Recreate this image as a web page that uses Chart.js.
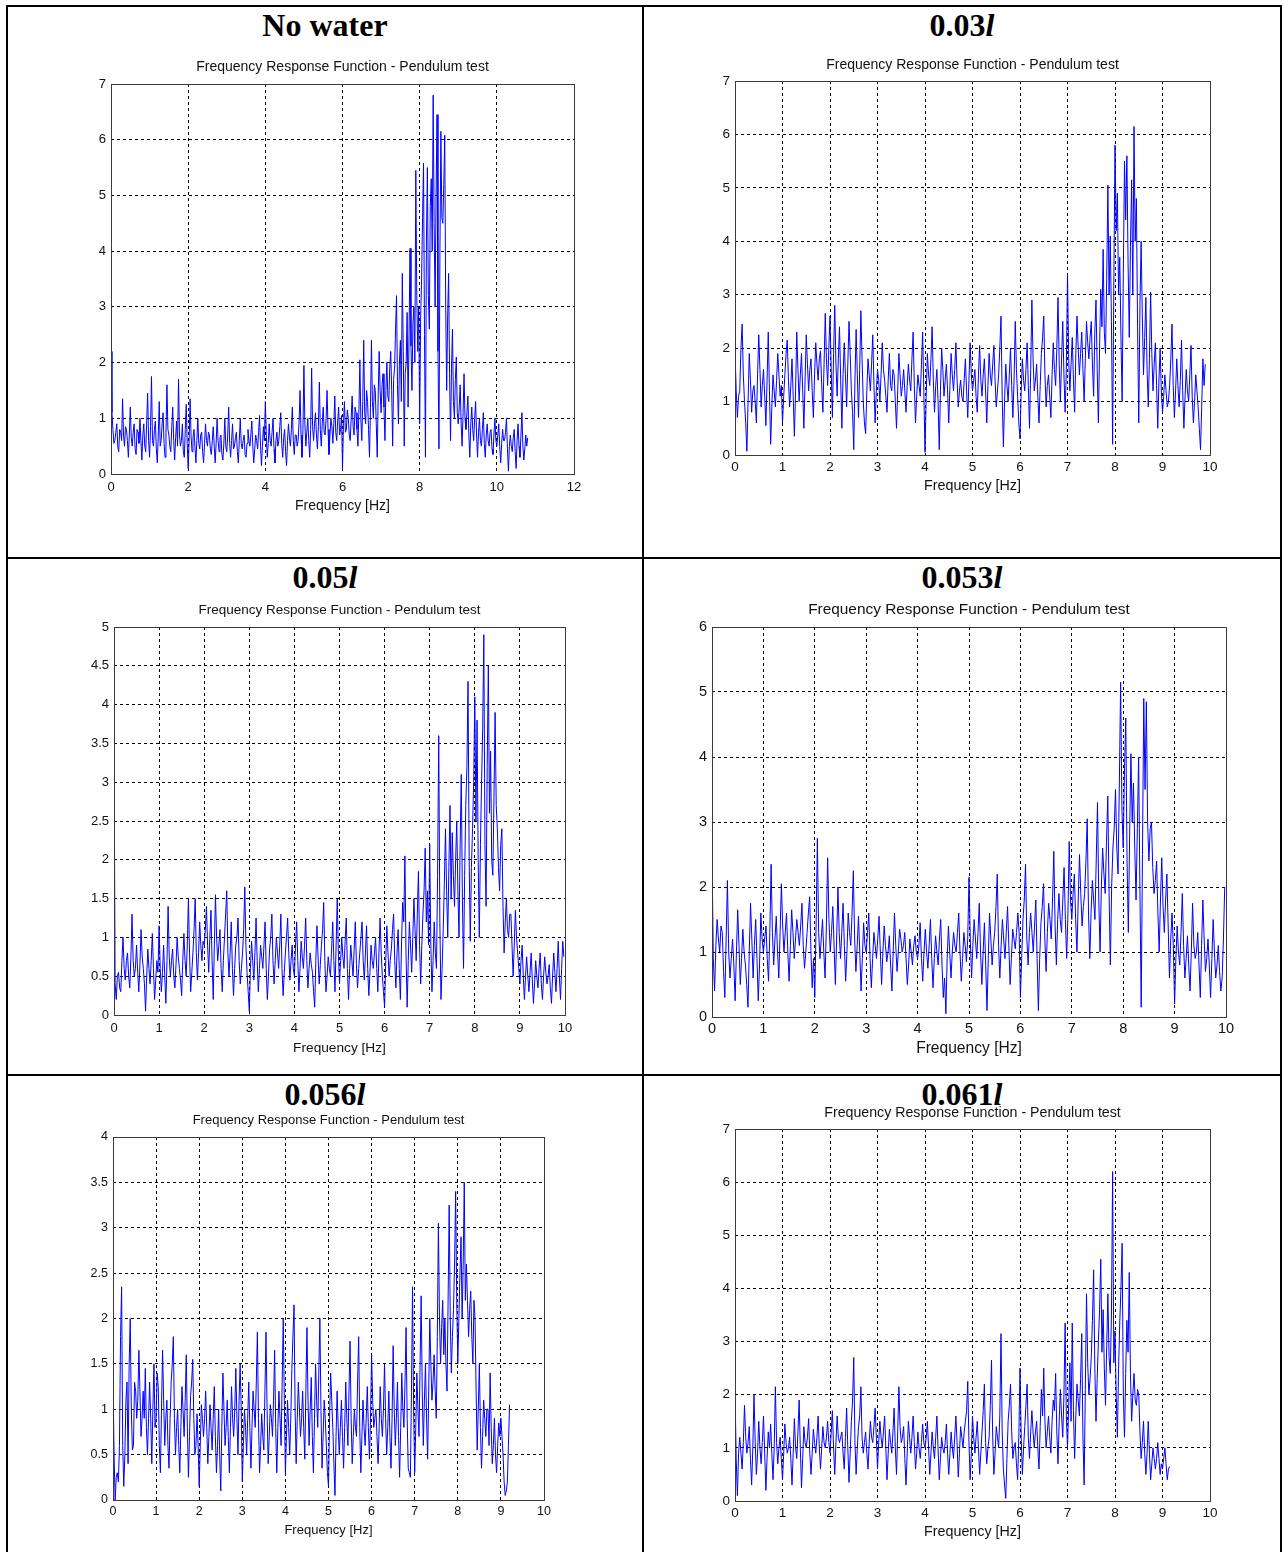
<!DOCTYPE html>
<html>
<head>
<meta charset="utf-8">
<title>Frequency Response Function - Pendulum test</title>
<script src="https://cdn.jsdelivr.net/npm/chart.js@4.4.1/dist/chart.umd.min.js"></script>
<style>
  body { margin: 0; background: #fff; width: 1283px; height: 1552px; position: relative; overflow: hidden; }
  .rule { position: absolute; background: #000; }
  .head { position: absolute; text-align: center; color: #000;
          font: bold 32px "Liberation Serif", "Times New Roman", serif; line-height: 32px; }
  .head i { font-style: italic; }
  canvas { position: absolute; }
</style>
</head>
<body>
<div class="rule" style="left:6px;top:5px;width:2px;height:1547px"></div>
<div class="rule" style="left:1280px;top:5px;width:2px;height:1547px"></div>
<div class="rule" style="left:642px;top:5px;width:2px;height:1547px"></div>
<div class="rule" style="left:6px;top:5px;width:1276px;height:2px"></div>
<div class="rule" style="left:6px;top:557px;width:1276px;height:2px"></div>
<div class="rule" style="left:6px;top:1074px;width:1276px;height:2px"></div>

<div class="head" style="left:8px;width:634px;top:9px">No water</div>
<div class="head" style="left:644px;width:636px;top:9px">0.03<i>l</i></div>
<div class="head" style="left:8px;width:634px;top:561px">0.05<i>l</i></div>
<div class="head" style="left:644px;width:636px;top:561px">0.053<i>l</i></div>
<div class="head" style="left:8px;width:634px;top:1078px">0.056<i>l</i></div>
<div class="head" style="left:644px;width:636px;top:1078px">0.061<i>l</i></div>

<script>
// frequency resolution of every FRF trace [Hz]
const df = 0.025;

// FRF magnitude, one value per 0.025 Hz starting at 0 Hz (one line = 1 Hz)
const noWater = [
  2.2, 1.1, 0.8, 0.55, 0.6, 0.75, 0.9, 0.5, 0.4, 0.8, 0.75, 0.6, 1.35, 0.7, 0.5, 0.85, 0.8, 0.6, 0.3, 0.7, 1.2, 0.65, 0.5, 0.75, 0.9, 0.45, 0.35, 0.8, 0.75, 0.55, 1.0, 0.6, 0.25, 0.7, 0.9, 0.5, 0.4, 0.95, 1.45, 0.6,
  0.3, 0.85, 1.75, 0.6, 0.5, 0.8, 0.95, 0.45, 0.2, 0.7, 1.3, 0.5, 0.6, 0.9, 1.1, 0.55, 0.3, 0.75, 1.6, 0.8, 0.7, 0.5, 0.4, 0.85, 1.2, 0.6, 0.25, 0.65, 0.95, 0.5, 1.7, 0.7, 0.5, 0.6, 0.9, 0.4, 0.3, 0.8, 1.25, 0.55,
  0.1, 0.6, 1.35, 0.7, 0.4, 0.65, 0.8, 0.5, 0.2, 0.6, 1.0, 0.55, 0.45, 0.7, 0.75, 0.4, 0.2, 0.55, 0.9, 0.6, 0.5, 0.75, 0.7, 0.45, 0.35, 0.6, 0.85, 0.5, 0.2, 0.55, 1.0, 0.6, 0.4, 0.65, 0.7, 0.35, 0.25, 0.55, 1.0, 0.5,
  0.4, 0.7, 1.2, 0.55, 0.3, 0.6, 0.9, 0.45, 0.5, 0.65, 0.75, 0.4, 0.2, 0.6, 1.0, 0.55, 0.45, 0.6, 0.7, 0.35, 0.3, 0.55, 0.8, 0.6, 0.5, 0.7, 0.95, 0.5, 0.2, 0.45, 0.7, 0.6, 0.45, 0.75, 1.05, 0.5, 0.15, 0.5, 0.85, 0.6,
  1.3, 0.7, 0.3, 0.55, 0.9, 0.6, 0.5, 0.75, 1.0, 0.45, 0.2, 0.6, 0.75, 0.5, 0.6, 0.85, 1.1, 0.55, 0.3, 0.65, 0.8, 0.4, 0.15, 0.6, 0.9, 0.65, 0.5, 0.8, 1.2, 0.6, 0.35, 0.7, 0.7, 0.5, 0.6, 0.95, 1.5, 0.7, 0.3, 0.8,
  1.95, 0.9, 0.5, 0.75, 1.0, 0.6, 0.3, 0.8, 1.9, 0.85, 0.6, 0.9, 1.1, 0.7, 0.45, 0.85, 1.65, 0.8, 0.5, 0.9, 1.2, 0.75, 0.7, 1.0, 1.5, 0.8, 0.35, 0.7, 1.0, 0.85, 0.55, 0.9, 1.4, 0.75, 0.6, 0.95, 1.2, 0.7, 0.8, 1.05,
  0.1, 0.9, 1.3, 0.75, 0.8, 1.15, 1.0, 0.7, 0.6, 1.0, 1.4, 0.85, 0.7, 1.2, 1.1, 0.8, 0.5, 1.1, 2.05, 1.0, 0.6, 1.3, 2.4, 1.1, 0.9, 1.5, 1.3, 0.8, 0.3, 1.2, 2.4, 1.3, 1.0, 1.6, 1.5, 0.9, 0.3, 1.4, 2.2, 1.5,
  1.1, 1.6, 1.8, 1.2, 0.6, 1.5, 2.0, 1.4, 1.3, 1.9, 2.2, 1.5, 0.5, 1.7, 1.9, 2.6, 3.2, 1.6, 0.9, 2.0, 2.4, 1.3, 3.6, 2.2, 0.5, 1.8, 2.0, 2.9, 1.2, 2.5, 4.05, 2.3, 1.5, 2.7, 3.0, 2.0, 5.45, 3.2, 2.2, 3.0,
  0.9, 2.8, 3.5, 4.6, 5.58, 2.5, 0.3, 4.2, 5.5, 3.2, 2.6, 4.8, 5.3, 4.0, 6.8, 4.5, 3.0, 5.0, 6.45, 2.2, 0.45, 4.0, 6.15, 4.6, 4.5, 5.2, 6.08, 3.0, 1.5, 2.8, 3.6, 1.8, 0.6, 1.9, 2.6, 1.3, 1.0, 1.7, 2.1, 1.1,
  0.9, 1.2, 1.6, 0.9, 0.5, 1.1, 1.8, 1.0, 0.8, 1.1, 1.4, 0.7, 0.3, 0.9, 1.2, 0.8, 0.6, 1.0, 1.3, 0.7, 0.3, 0.75, 1.0, 0.6, 0.5, 0.8, 1.1, 0.55, 0.3, 0.7, 0.9, 0.6, 0.5, 0.75, 0.8, 0.45, 0.35, 0.7, 1.0, 0.6,
  0.5, 0.7, 0.9, 0.5, 0.2, 0.55, 0.8, 0.6, 0.6, 0.75, 1.0, 0.45, 0.05, 0.5, 0.7, 0.5, 0.4, 0.65, 0.8, 0.4, 0.1, 0.6, 0.9, 0.5, 0.3, 0.7, 1.1, 0.5, 0.25, 0.45, 0.7, 0.5, 0.65
];
const water003 = [
  1.95, 1.2, 0.7, 1.1, 1.2, 2.0, 2.45, 1.5, 1.0, 0.6, 0.07, 1.0, 1.9, 1.4, 0.8, 1.2, 1.3, 1.0, 0.6, 1.5, 2.25, 1.6, 0.9, 1.3, 1.6, 1.1, 0.55, 1.4, 2.3, 1.2, 0.2, 0.9, 1.5, 1.2, 0.9, 1.4, 1.9, 1.5, 1.1, 1.3,
  0.6, 1.1, 1.5, 1.9, 2.15, 1.4, 0.9, 1.3, 1.8, 1.1, 0.35, 1.2, 2.3, 1.6, 1.0, 1.5, 1.9, 1.2, 0.5, 1.4, 2.25, 1.7, 1.2, 1.6, 1.8, 1.2, 0.7, 1.5, 2.1, 1.7, 1.4, 1.8, 1.95, 1.3, 0.8, 1.7, 2.65, 1.8, 1.3, 2.0,
  2.6, 1.6, 0.7, 1.9, 2.8, 1.7, 1.1, 1.8, 2.4, 1.4, 0.5, 1.5, 2.1, 1.5, 0.9, 1.7, 2.5, 1.9, 1.2, 0.8, 0.1, 1.4, 2.35, 1.5, 0.7, 1.6, 2.7, 1.8, 1.0, 0.6, 0.4, 1.2, 1.8, 1.5, 1.2, 1.7, 2.25, 1.3, 0.6, 1.2,
  1.6, 1.4, 1.0, 1.5, 2.1, 1.6, 1.4, 1.1, 0.8, 1.4, 1.9, 1.3, 1.2, 1.6, 1.5, 1.0, 0.5, 1.2, 1.9, 1.5, 1.1, 1.3, 1.6, 1.2, 0.8, 1.3, 1.7, 1.4, 1.2, 1.8, 2.3, 1.3, 0.6, 1.1, 1.5, 1.3, 1.1, 1.7, 2.3, 1.2,
  0.05, 1.1, 1.9, 1.5, 1.3, 1.8, 2.4, 1.4, 0.8, 1.3, 1.6, 1.0, 0.1, 1.2, 2.0, 1.6, 1.1, 1.4, 1.7, 1.2, 0.6, 1.3, 1.9, 1.5, 1.2, 1.6, 2.1, 1.4, 0.9, 1.2, 1.4, 1.1, 1.0, 1.4, 1.8, 1.2, 0.7, 1.4, 2.1, 1.5,
  1.2, 1.4, 1.6, 1.1, 0.8, 1.5, 2.05, 1.4, 1.1, 1.5, 1.8, 1.2, 0.6, 1.3, 1.9, 1.5, 1.3, 1.7, 2.05, 1.4, 0.9, 1.2, 1.5, 2.0, 2.6, 1.1, 0.15, 1.0, 1.7, 1.3, 1.0, 1.5, 2.0, 1.3, 0.7, 1.4, 2.5, 1.6, 1.1, 0.6,
  0.3, 1.2, 1.8, 1.4, 1.2, 1.6, 2.1, 1.3, 0.5, 1.6, 2.9, 1.8, 1.2, 1.4, 1.7, 1.1, 0.6, 1.3, 1.9, 2.2, 2.6, 1.5, 0.9, 1.3, 1.5, 1.1, 0.7, 1.5, 2.1, 1.6, 1.3, 2.0, 2.95, 1.7, 1.0, 1.8, 2.5, 1.5, 0.8, 1.6,
  3.4, 1.8, 1.2, 1.7, 2.2, 1.4, 0.8, 1.9, 2.6, 2.0, 1.5, 1.9, 2.3, 1.6, 1.0, 1.8, 2.5, 2.1, 1.8, 2.2, 2.5, 1.7, 1.1, 2.3, 2.9, 1.6, 0.6, 2.0, 3.1, 2.4, 3.85, 2.3, 1.9, 3.3, 5.05, 3.0, 4.1, 2.5, 0.2, 3.2,
  5.8, 4.2, 4.9, 3.0, 3.7, 2.2, 1.0, 3.4, 5.5, 4.4, 5.6, 3.6, 2.2, 3.9, 5.15, 3.0, 6.15, 4.0, 4.8, 2.4, 0.6, 2.8, 4.0, 2.6, 1.5, 2.2, 2.95, 1.6, 0.9, 1.8, 3.05, 1.9, 1.2, 1.7, 2.1, 1.3, 0.5, 1.4, 2.0, 1.2,
  0.8, 1.1, 1.5, 1.2, 0.9, 1.0, 1.3, 1.8, 2.45, 1.3, 0.7, 1.2, 1.8, 1.3, 0.9, 1.4, 2.15, 1.2, 0.5, 1.1, 1.6, 1.2, 1.0, 1.5, 2.05, 1.1, 0.6, 1.0, 1.5, 1.2, 0.9, 0.5, 0.1, 0.9, 1.8, 1.3, 1.7
];
const water005 = [
  3.6, 0.4, 0.2, 0.5, 0.55, 0.35, 0.3, 0.7, 1.0, 0.6, 0.45, 0.7, 0.8, 0.5, 0.35, 0.75, 1.3, 0.7, 0.5, 0.6, 0.9, 0.55, 0.3, 0.65, 1.1, 0.75, 0.6, 0.4, 0.05, 0.5, 0.85, 0.6, 0.4, 0.7, 1.05, 0.6, 0.2, 0.45, 0.7, 0.55,
  1.15, 0.6, 0.3, 0.55, 0.9, 0.5, 0.15, 0.7, 1.4, 0.75, 0.5, 0.7, 0.85, 0.5, 0.35, 0.65, 1.0, 0.75, 0.6, 0.45, 0.25, 0.7, 1.05, 0.7, 0.5, 0.9, 1.5, 0.8, 0.3, 0.55, 0.8, 1.1, 1.5, 0.8, 0.45, 0.8, 1.2, 0.9, 0.7, 0.95,
  0.9, 1.1, 1.4, 0.9, 0.55, 1.0, 1.35, 0.7, 0.2, 0.9, 1.55, 1.0, 0.7, 0.9, 1.1, 0.6, 0.3, 0.7, 1.0, 1.3, 1.6, 0.8, 0.5, 0.8, 1.2, 0.6, 0.25, 0.6, 0.9, 1.0, 1.25, 0.7, 0.4, 0.6, 0.8, 1.1, 1.65, 0.9, 0.55, 0.3,
  0.05, 0.6, 0.95, 0.7, 0.45, 0.8, 1.25, 0.7, 0.3, 0.6, 0.9, 0.75, 0.6, 0.9, 1.2, 0.6, 0.2, 0.5, 0.85, 1.0, 1.3, 0.7, 0.4, 0.7, 1.0, 0.8, 0.6, 0.9, 1.3, 0.6, 0.25, 0.55, 0.8, 1.0, 1.25, 0.8, 0.45, 0.7, 0.9, 0.6,
  0.5, 0.9, 1.2, 0.7, 0.3, 0.6, 0.95, 0.75, 0.6, 0.9, 1.25, 0.7, 0.35, 0.6, 0.8, 0.65, 0.55, 0.3, 0.1, 0.7, 1.15, 0.75, 0.4, 0.65, 0.9, 1.1, 1.45, 0.7, 0.3, 0.5, 0.75, 0.6, 0.5, 0.85, 1.2, 0.7, 0.3, 0.9, 1.5, 0.8,
  0.4, 0.7, 1.0, 0.75, 0.6, 0.95, 1.25, 0.6, 0.2, 0.6, 0.9, 0.7, 0.5, 0.85, 1.2, 0.65, 0.35, 0.6, 0.8, 1.0, 1.2, 0.7, 0.45, 0.8, 1.15, 0.6, 0.25, 0.55, 0.9, 0.7, 0.6, 0.8, 1.0, 0.6, 0.3, 0.8, 1.25, 0.8, 0.5, 0.3,
  0.1, 0.7, 1.15, 0.8, 0.5, 0.7, 0.85, 1.1, 1.3, 0.7, 0.35, 0.8, 1.1, 0.6, 0.2, 0.9, 1.45, 1.2, 2.05, 0.8, 0.1, 0.7, 1.2, 0.9, 0.55, 1.0, 1.5, 1.1, 0.7, 1.3, 1.85, 0.9, 0.4, 0.9, 1.3, 1.6, 2.15, 1.2, 1.6, 0.9,
  2.2, 0.9, 0.3, 0.7, 1.2, 0.8, 0.6, 1.8, 3.6, 1.2, 0.2, 0.6, 1.1, 1.7, 2.4, 1.6, 1.0, 1.9, 2.7, 1.5, 2.35, 1.8, 1.4, 2.0, 2.5, 1.6, 1.0, 2.2, 3.1, 1.5, 0.6, 1.8, 2.7, 3.2, 4.3, 2.0, 0.95, 1.9, 2.4, 3.0,
  4.1, 2.5, 3.8, 2.0, 1.0, 2.2, 3.0, 3.7, 4.9, 2.2, 1.4, 3.2, 4.5, 2.6, 3.4, 2.0, 1.8, 2.8, 3.9, 2.7, 2.4, 1.9, 1.6, 2.2, 2.4, 1.4, 0.8, 1.2, 1.5, 1.1, 1.0, 1.3, 1.3, 0.9, 0.5, 0.9, 1.35, 1.0, 0.8, 0.6,
  0.4, 0.7, 0.9, 0.5, 0.2, 0.5, 0.75, 0.5, 0.3, 0.55, 0.8, 0.45, 0.15, 0.4, 0.7, 0.5, 0.35, 0.6, 0.8, 0.4, 0.2, 0.5, 0.75, 0.55, 0.4, 0.5, 0.65, 0.35, 0.15, 0.5, 0.8, 0.55, 0.3, 0.6, 0.95, 0.5, 0.2, 0.6, 0.95, 0.75
];
const water0053 = [
  2.55, 0.9, 0.4, 1.1, 1.5, 1.2, 1.0, 1.4, 1.3, 0.7, 0.3, 1.2, 2.1, 1.0, 0.6, 0.9, 1.2, 0.8, 0.25, 1.0, 1.65, 1.1, 0.5, 0.9, 1.35, 1.0, 0.8, 0.5, 0.15, 1.0, 1.75, 1.2, 0.6, 1.1, 1.5, 0.9, 0.25, 0.8, 1.6, 1.2,
  1.0, 1.2, 1.4, 0.9, 0.55, 1.3, 2.35, 1.3, 0.8, 1.2, 1.55, 1.0, 0.6, 1.3, 2.05, 1.4, 1.0, 1.3, 1.6, 1.0, 0.55, 1.1, 1.65, 1.3, 0.9, 1.2, 1.5, 1.3, 1.1, 1.4, 1.75, 1.1, 0.75, 1.0, 1.3, 1.6, 1.85, 1.0, 0.45, 0.9,
  0.3, 1.4, 2.75, 1.3, 0.9, 1.2, 1.5, 1.0, 0.6, 1.4, 2.45, 1.5, 1.0, 1.3, 1.7, 1.1, 0.5, 1.2, 2.0, 1.3, 0.9, 1.3, 1.75, 1.1, 0.55, 1.0, 1.6, 1.3, 1.1, 1.6, 2.25, 1.2, 0.7, 1.1, 1.55, 1.0, 0.4, 0.9, 1.45, 1.1,
  1.0, 1.3, 1.6, 0.9, 0.45, 0.9, 1.3, 1.1, 0.9, 1.2, 1.55, 1.0, 0.5, 1.0, 1.4, 1.1, 0.85, 1.0, 1.25, 0.8, 0.4, 1.0, 1.6, 1.1, 0.7, 1.0, 1.35, 1.2, 1.0, 1.1, 1.3, 0.9, 0.5, 0.8, 1.2, 1.0, 0.8, 1.1, 1.25, 1.0,
  0.9, 1.1, 1.45, 0.9, 0.55, 1.0, 1.35, 1.0, 0.75, 1.1, 1.5, 0.9, 0.45, 0.9, 1.25, 1.0, 0.8, 1.2, 1.5, 0.8, 0.3, 0.6, 0.05, 0.9, 1.4, 1.0, 0.6, 1.0, 1.3, 1.1, 1.0, 1.3, 1.6, 1.0, 0.55, 0.9, 1.3, 1.1, 0.85, 1.2,
  2.15, 1.2, 0.6, 1.1, 1.5, 1.2, 0.9, 1.3, 1.75, 1.0, 0.5, 1.0, 1.45, 0.8, 0.1, 0.9, 1.6, 1.2, 0.8, 1.1, 1.3, 1.7, 2.2, 1.1, 0.6, 1.1, 1.5, 1.2, 0.9, 1.3, 1.7, 1.1, 0.5, 0.9, 1.35, 1.2, 1.05, 1.3, 1.6, 1.3,
  0.3, 0.9, 1.5, 1.8, 2.35, 1.2, 0.8, 1.3, 1.6, 1.3, 1.0, 1.4, 1.8, 0.9, 0.1, 0.9, 1.45, 1.7, 2.05, 1.2, 0.7, 1.3, 1.75, 1.5, 1.2, 1.8, 2.55, 1.4, 0.8, 1.5, 1.9, 1.5, 1.3, 1.8, 2.3, 1.5, 0.9, 1.6, 2.7, 1.8,
  1.5, 1.9, 2.2, 1.5, 1.0, 1.8, 2.5, 1.9, 1.4, 1.7, 1.9, 2.4, 3.05, 1.6, 0.9, 1.6, 2.1, 1.8, 1.5, 2.4, 3.3, 1.8, 1.0, 2.0, 2.6, 2.2, 1.9, 2.7, 3.4, 1.9, 0.8, 2.0, 2.6, 2.9, 3.5, 2.6, 2.2, 3.6, 5.15, 3.2,
  2.6, 3.8, 4.6, 2.4, 1.3, 2.8, 4.05, 3.0, 3.6, 2.6, 1.8, 2.9, 4.0, 2.0, 0.15, 2.5, 4.9, 3.5, 4.85, 3.0, 2.4, 2.9, 3.0, 2.3, 1.9, 2.1, 2.4, 1.6, 1.0, 1.8, 2.45, 1.7, 1.3, 1.8, 2.2, 1.4, 0.6, 1.2, 1.6, 1.1,
  0.2, 0.9, 1.4, 1.0, 0.8, 1.3, 1.9, 1.1, 0.6, 0.9, 1.25, 0.8, 0.4, 1.0, 1.75, 1.1, 0.9, 1.0, 1.3, 0.8, 0.3, 1.1, 1.8, 1.2, 0.7, 0.9, 1.2, 0.8, 0.3, 0.9, 1.5, 1.0, 0.6, 0.8, 1.1, 0.7, 0.4, 0.6, 1.2, 2.0
];
const water0056 = [
  1.35, 0.5, 0.0, 0.25, 0.3, 0.2, 0.6, 1.8, 2.35, 0.6, 0.15, 0.5, 1.1, 1.3, 0.4, 1.5, 2.0, 1.0, 0.55, 0.6, 1.3, 1.2, 0.9, 1.1, 1.65, 1.2, 0.7, 0.9, 1.2, 0.9, 1.45, 0.8, 0.5, 0.9, 1.3, 0.9, 0.4, 1.0, 1.5, 0.8,
  0.9, 1.4, 1.25, 0.6, 0.3, 1.0, 1.65, 1.1, 0.6, 0.9, 1.1, 0.6, 0.35, 0.9, 1.3, 1.5, 1.8, 0.9, 0.5, 0.8, 1.0, 0.6, 0.3, 0.8, 1.25, 1.0, 0.7, 1.1, 1.6, 0.8, 0.25, 0.7, 1.15, 1.3, 1.55, 0.9, 0.5, 0.6, 0.95, 0.6,
  0.15, 0.6, 1.05, 0.9, 0.7, 0.9, 1.2, 0.8, 0.4, 0.7, 1.05, 0.8, 0.55, 0.9, 1.25, 0.7, 0.3, 0.6, 1.0, 0.5, 0.1, 0.8, 1.4, 1.0, 0.6, 0.8, 1.1, 0.7, 0.3, 0.8, 1.25, 0.9, 0.7, 1.0, 1.45, 0.9, 0.5, 1.1, 1.5, 1.0,
  0.2, 0.6, 1.0, 0.8, 0.5, 0.9, 1.3, 0.8, 0.35, 0.8, 1.2, 1.0, 0.8, 1.3, 1.85, 0.9, 0.3, 0.6, 0.95, 0.7, 0.55, 1.2, 1.85, 1.0, 0.4, 0.7, 1.05, 0.9, 0.7, 1.1, 1.65, 0.8, 0.3, 0.8, 1.2, 0.9, 0.6, 1.3, 2.0, 1.1,
  0.3, 0.7, 1.1, 0.8, 0.5, 0.9, 1.45, 1.8, 2.15, 1.0, 0.4, 0.9, 1.3, 1.0, 0.7, 0.9, 1.2, 0.8, 0.45, 1.2, 1.9, 1.1, 0.6, 1.0, 1.35, 0.7, 0.3, 0.9, 1.5, 1.1, 0.8, 1.4, 2.0, 1.0, 0.35, 0.7, 1.1, 0.9, 0.6, 0.3,
  0.15, 0.9, 1.4, 1.1, 0.8, 0.4, 0.05, 0.7, 1.2, 0.8, 0.5, 0.8, 1.1, 0.7, 0.35, 0.8, 1.3, 0.9, 0.6, 1.2, 1.75, 0.9, 0.4, 0.7, 1.0, 0.8, 0.7, 1.3, 1.8, 0.8, 0.3, 0.7, 1.1, 0.8, 0.6, 0.9, 1.25, 0.8, 0.45, 0.9,
  1.6, 1.1, 0.8, 0.9, 1.0, 0.7, 0.4, 0.8, 1.25, 0.9, 0.7, 1.0, 1.5, 0.9, 0.5, 0.8, 1.2, 0.7, 0.35, 0.9, 1.7, 1.0, 0.6, 0.9, 1.3, 0.7, 0.25, 0.8, 1.4, 1.0, 0.8, 1.3, 1.9, 0.9, 0.35, 0.3, 0.25, 1.2, 2.35, 1.0,
  0.3, 0.8, 1.4, 1.0, 0.7, 1.5, 2.25, 1.2, 0.6, 1.1, 1.5, 0.9, 0.45, 1.2, 2.0, 1.5, 1.1, 1.3, 1.6, 1.2, 0.9, 1.8, 3.05, 2.0, 1.5, 1.9, 2.2, 1.6, 2.0, 1.5, 1.2, 2.2, 3.25, 2.0, 1.4, 1.8, 2.1, 2.6, 3.4, 2.2,
  1.5, 2.0, 2.5, 2.9, 2.0, 2.6, 3.5, 2.2, 2.6, 2.2, 1.8, 2.1, 2.3, 1.8, 1.5, 2.2, 2.0, 1.2, 0.55, 1.0, 1.5, 0.8, 0.35, 0.7, 1.1, 0.9, 0.7, 1.0, 1.0, 0.6, 1.4, 0.8, 0.4, 0.6, 0.9, 0.5, 0.3, 0.6, 0.85, 0.7,
  0.9, 0.7, 0.5, 0.2, 0.05, 0.1, 0.2, 0.6, 1.05
];
const water0061 = [
  2.1, 0.8, 0.1, 0.9, 1.2, 0.9, 0.6, 1.1, 1.8, 1.2, 0.9, 1.1, 1.4, 0.8, 0.3, 1.0, 2.0, 1.1, 0.5, 0.9, 1.5, 1.0, 0.7, 1.1, 1.6, 0.9, 0.2, 0.8, 1.3, 1.0, 1.45, 0.9, 0.4, 1.0, 2.15, 1.1, 0.7, 1.0, 1.2, 0.8,
  0.4, 0.9, 1.45, 1.1, 0.9, 1.0, 1.2, 0.8, 0.3, 0.9, 1.55, 1.0, 0.8, 1.3, 1.9, 1.0, 0.25, 0.8, 1.4, 1.1, 1.0, 1.2, 1.55, 0.9, 0.5, 0.9, 1.35, 1.1, 0.9, 1.2, 1.6, 1.0, 0.6, 1.0, 1.4, 1.1, 1.0, 1.2, 1.5, 1.1,
  0.9, 1.3, 1.7, 1.0, 0.5, 1.1, 1.6, 1.2, 1.1, 1.2, 1.3, 0.9, 0.6, 1.2, 1.75, 1.0, 0.35, 0.9, 1.5, 1.9, 2.7, 1.1, 0.5, 1.0, 1.4, 1.6, 2.15, 1.2, 0.9, 1.1, 1.3, 0.9, 0.6, 1.1, 1.5, 1.2, 1.1, 1.4, 1.75, 1.2,
  0.6, 1.1, 1.5, 1.2, 1.0, 1.3, 1.6, 1.0, 0.4, 0.9, 1.35, 1.1, 0.9, 1.3, 1.75, 1.0, 0.5, 1.3, 2.15, 1.4, 1.1, 1.2, 1.4, 0.8, 0.3, 0.9, 1.5, 1.2, 0.9, 1.2, 1.6, 1.1, 0.6, 0.9, 1.3, 1.0, 0.8, 1.1, 1.45, 1.1,
  1.0, 1.2, 1.5, 1.0, 0.5, 0.9, 1.3, 1.0, 0.8, 1.2, 1.6, 1.0, 0.4, 0.8, 1.2, 1.0, 0.9, 1.1, 1.45, 0.9, 0.5, 0.9, 1.3, 1.0, 0.8, 1.2, 1.6, 1.1, 0.45, 0.9, 1.4, 1.2, 1.0, 1.3, 1.5, 1.7, 2.25, 1.1, 0.4, 0.9,
  1.6, 1.2, 0.9, 1.2, 1.5, 1.0, 0.5, 0.9, 1.3, 1.7, 2.2, 1.1, 0.7, 1.0, 1.2, 1.8, 2.65, 1.2, 0.5, 0.9, 1.4, 1.2, 1.0, 1.6, 3.15, 1.3, 0.6, 0.3, 0.05, 0.8, 1.5, 1.8, 2.2, 1.3, 0.8, 1.0, 1.1, 0.7, 0.4, 1.2,
  2.5, 1.2, 0.5, 1.0, 1.4, 1.8, 2.2, 1.2, 0.8, 1.3, 1.7, 1.3, 1.0, 1.3, 1.5, 1.0, 0.6, 1.4, 2.1, 1.6, 2.5, 1.5, 1.0, 1.3, 1.6, 1.2, 0.9, 1.5, 1.9, 1.7, 2.4, 1.3, 0.7, 1.5, 2.1, 1.6, 1.2, 2.0, 3.35, 1.6,
  1.0, 1.8, 2.6, 1.5, 3.35, 1.7, 0.8, 1.6, 2.2, 1.9, 1.6, 2.3, 3.15, 1.2, 0.3, 2.1, 3.9, 2.6, 2.0, 2.3, 2.7, 3.4, 4.35, 2.5, 1.5, 2.3, 3.0, 3.6, 4.55, 2.8, 3.6, 2.5, 1.8, 2.9, 3.9, 2.7, 2.4, 3.5, 6.2, 2.6,
  3.2, 2.0, 1.2, 2.5, 3.35, 4.0, 4.85, 2.0, 1.2, 2.4, 3.4, 2.8, 4.3, 2.4, 1.5, 2.0, 2.4, 1.9, 1.8, 2.1, 2.0, 1.3, 0.8, 1.1, 1.5, 0.9, 0.5, 0.9, 1.5, 0.9, 0.4, 0.7, 1.0, 0.8, 0.6, 0.8, 1.1, 0.8, 0.5, 0.7,
  0.6, 0.8, 1.0, 0.7, 0.4, 0.6, 0.65
];

// axis ticks
const xTicks12 = [0, 2, 4, 6, 8, 10, 12];
const xTicks10 = [0, 1, 2, 3, 4, 5, 6, 7, 8, 9, 10];
const yTicks7 = [0, 1, 2, 3, 4, 5, 6, 7];
const yTicks6 = [0, 1, 2, 3, 4, 5, 6];
const yTicks5 = [0, 0.5, 1, 1.5, 2, 2.5, 3, 3.5, 4, 4.5, 5];
const yTicks4 = [0, 0.5, 1, 1.5, 2, 2.5, 3, 3.5, 4];

const subtitle = 'Frequency Response Function - Pendulum test';
const xLabel = 'Frequency [Hz]';
const FONT = '"Liberation Sans", Arial, Helvetica, sans-serif';

// plot box = [left, top, right, bottom] in page pixels
const panels = [
  { values: noWater,   xTicks: xTicks12, yTicks: yTicks7, box: [111, 84, 574, 474],
    subY: 67,   subSize: 14,   tickSize: 13,   tickGap: 13, axisSize: 14,   axisGap: 32 },
  { values: water003,  xTicks: xTicks10, yTicks: yTicks7, box: [735, 81, 1210, 455],
    subY: 65,   subSize: 14,   tickSize: 13.5, tickGap: 12, axisSize: 14.3, axisGap: 31 },
  { values: water005,  xTicks: xTicks10, yTicks: yTicks5, box: [114, 627, 565, 1015],
    subY: 610,  subSize: 13.5, tickSize: 13,   tickGap: 13, axisSize: 13.7, axisGap: 33 },
  { values: water0053, xTicks: xTicks10, yTicks: yTicks6, box: [712, 627, 1226, 1017],
    subY: 610,  subSize: 15.4, tickSize: 14.5, tickGap: 12, axisSize: 15.6, axisGap: 32 },
  { values: water0056, xTicks: xTicks10, yTicks: yTicks4, box: [113, 1137, 544, 1500],
    subY: 1120, subSize: 13,   tickSize: 12.5, tickGap: 12, axisSize: 13,   axisGap: 30 },
  { values: water0061, xTicks: xTicks10, yTicks: yTicks7, box: [735, 1129, 1210, 1501],
    subY: 1113, subSize: 14.2, tickSize: 13.5, tickGap: 12, axisSize: 14.3, axisGap: 31 }
];

const PAD_L = 60, PAD_T = 40, PAD_R = 25, PAD_B = 45;

// solid box around the axes, like a MATLAB "box on"
const axesFrame = {
  id: 'axesFrame',
  afterDatasetsDraw(chart) {
    const { ctx, chartArea: a } = chart;
    ctx.save();
    ctx.strokeStyle = '#3a3a3a';
    ctx.lineWidth = 1;
    ctx.strokeRect(a.left + 0.5, a.top + 0.5, a.right - a.left, a.bottom - a.top);
    ctx.restore();
  }
};

function makePanel(p) {
  const [L, T, R, B] = p.box;
  const w = R - L + PAD_L + PAD_R;
  const h = B - T + PAD_T + PAD_B;

  const canvas = document.createElement('canvas');
  canvas.width = w;
  canvas.height = h;
  canvas.style.left = (L - PAD_L) + 'px';
  canvas.style.top = (T - PAD_T) + 'px';
  canvas.style.width = w + 'px';
  canvas.style.height = h + 'px';
  document.body.appendChild(canvas);

  const subTop = p.subY - (T - PAD_T) - 0.6 * p.subSize;
  const subBottom = PAD_T - subTop - 1.2 * p.subSize;
  const points = p.values.map((v, i) => ({ x: +(i * df).toFixed(3), y: v }));
  const xMax = p.xTicks[p.xTicks.length - 1];
  const yMax = p.yTicks[p.yTicks.length - 1];

  new Chart(canvas, {
    type: 'line',
    data: {
      datasets: [{
        data: points,
        borderColor: '#0000ff',
        borderWidth: 1,
        pointRadius: 0,
        tension: 0,
        fill: false
      }]
    },
    options: {
      responsive: false,
      animation: false,
      devicePixelRatio: 1,
      layout: { padding: { left: 0, top: 0, right: PAD_R, bottom: 0 } },
      plugins: {
        legend: { display: false },
        tooltip: { enabled: false },
        title: {
          display: true,
          text: subtitle,
          fullSize: false,
          color: '#111',
          font: { family: FONT, size: p.subSize, weight: 'normal', lineHeight: 1.2 },
          padding: { top: subTop, bottom: subBottom }
        }
      },
      scales: {
        x: {
          type: 'linear',
          min: 0,
          max: xMax,
          afterBuildTicks: s => { s.ticks = p.xTicks.map(v => ({ value: v })); },
          afterFit: s => { s.height = PAD_B; },
          grid: { color: '#000', lineWidth: 1, drawTicks: false },
          border: { display: false, dash: [3, 3] },
          ticks: {
            color: '#111',
            padding: p.tickGap - 0.6 * p.tickSize,
            maxRotation: 0,
            font: { family: FONT, size: p.tickSize },
            callback: v => String(v)
          },
          title: {
            display: true,
            text: xLabel,
            color: '#111',
            font: { family: FONT, size: p.axisSize, lineHeight: 1.2 },
            padding: { top: 0, bottom: PAD_B - p.axisGap - 0.6 * p.axisSize }
          }
        },
        y: {
          type: 'linear',
          min: 0,
          max: yMax,
          afterBuildTicks: s => { s.ticks = p.yTicks.map(v => ({ value: v })); },
          afterFit: s => { s.width = PAD_L; },
          grid: { color: '#000', lineWidth: 1, drawTicks: false },
          border: { display: false, dash: [3, 3] },
          ticks: {
            color: '#111',
            padding: 5,
            font: { family: FONT, size: p.tickSize },
            callback: v => String(v)
          }
        }
      }
    },
    plugins: [axesFrame]
  });
}

panels.forEach(makePanel);
</script>
</body>
</html>
